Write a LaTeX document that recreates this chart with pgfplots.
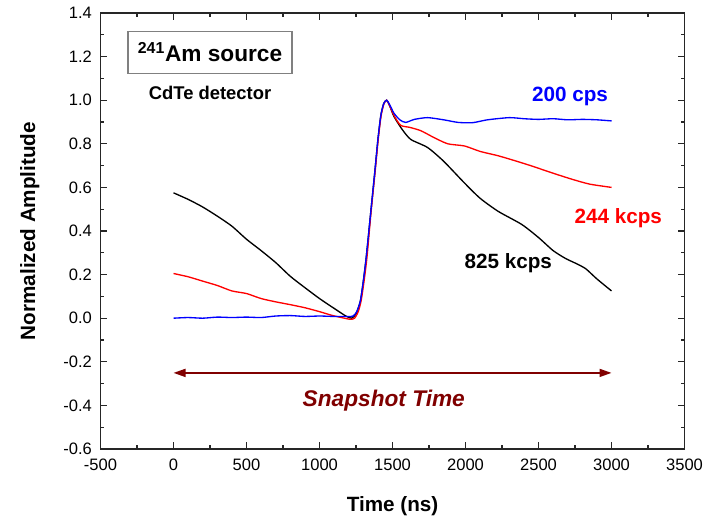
\documentclass[border=0pt]{standalone}
\usepackage{pgfplots}
\pgfplotsset{compat=1.18}
\usepackage{fontspec}
\setmainfont{Liberation Sans}
\usetikzlibrary{arrows.meta}
\definecolor{snapred}{RGB}{128,0,0}
\definecolor{boxgray}{RGB}{128,128,128}
\begin{document}
\begin{tikzpicture}
\useasboundingbox (-75.4pt,-50.25pt) rectangle (452.6pt,336.75pt);
\begin{axis}[
  at={(0,0)}, anchor=south west,
  scale only axis, width=438pt, height=327pt,
  xmin=-500, xmax=3500, ymin=-0.6, ymax=1.4,
  xtick={-500,0,...,3500}, ytick={-0.6,-0.4,...,1.41},
  minor x tick num=1, minor y tick num=1,
  tick align=inside, tick pos=both,
  major tick length=5pt, minor tick length=2.8pt,
  axis line style={line width=1.1pt, black!85},
  every tick/.style={line width=0.9pt, black!85},
  /pgf/number format/assume math mode=true,
  xticklabel style={font=\fontsize{12.4}{14}\selectfont, yshift=-4pt, /pgf/number format/set thousands separator={}},
  yticklabel style={font=\fontsize{12.4}{14}\selectfont, xshift=-3pt, /pgf/number format/fixed, /pgf/number format/fixed zerofill, /pgf/number format/precision=1},
  xlabel={\textbf{Time (ns)}},
  ylabel={\textbf{Normalized Amplitude}},
  label style={font=\fontsize{15.5}{18}\selectfont},
  xlabel style={at={(axis description cs:0.5,0)}, anchor=center, yshift=-43pt},
  ylabel style={at={(axis description cs:0,0.5)}, anchor=center, yshift=53pt},
  clip=false,
]
% 825 kcps (black)
\addplot[black, line width=1pt, smooth, tension=0.4] coordinates {
(0,0.575) (100,0.545) (200,0.51) (300,0.468) (400,0.422) (500,0.362) (600,0.31) (700,0.255) (800,0.192) (900,0.14) (1000,0.09) (1100,0.045) (1180,0.01) (1220,0.0)
(1250,0.02) (1280,0.08) (1300,0.17) (1320,0.28) (1350,0.48) (1380,0.68) (1400,0.82) (1420,0.93) (1440,0.985) (1460,1.0) (1480,0.975)
(1510,0.925) (1567,0.865) (1625,0.82) (1740,0.783) (1850,0.72) (1993,0.62) (2100,0.55) (2224,0.49) (2385,0.43) (2500,0.37) (2600,0.31) (2685,0.274) (2760,0.25) (2823,0.227) (2900,0.18) (3000,0.125)
};
% 244 kcps (red)
\addplot[red, line width=1pt, smooth, tension=0.4] coordinates {
(0,0.205) (100,0.19) (200,0.17) (300,0.15) (400,0.125) (500,0.113) (600,0.09) (700,0.075) (800,0.062) (900,0.048) (1000,0.03) (1080,0.014) (1150,0.003) (1210,-0.005) (1240,0.0)
(1265,0.03) (1285,0.08) (1305,0.17) (1325,0.28) (1352,0.48) (1382,0.68) (1402,0.82) (1422,0.93) (1442,0.985) (1460,1.0) (1480,0.975)
(1510,0.93) (1555,0.885) (1620,0.875) (1694,0.86) (1780,0.83) (1878,0.80) (1993,0.79) (2100,0.765) (2224,0.745) (2350,0.72) (2454,0.698) (2600,0.665) (2731,0.637) (2850,0.615) (3000,0.600)
};
% 200 cps (blue)
\addplot[blue, line width=1pt, smooth, tension=0.4] coordinates {
(0,0.0) (100,0.003) (200,0.0) (300,0.005) (400,0.003) (500,0.005) (600,0.003) (700,0.01) (800,0.012) (900,0.008) (1000,0.01) (1100,0.008) (1200,0.008) (1230,0.01)
(1255,0.03) (1280,0.08) (1300,0.17) (1320,0.28) (1350,0.48) (1380,0.68) (1400,0.82) (1420,0.93) (1440,0.985) (1460,1.0) (1480,0.98)
(1510,0.94) (1550,0.91) (1590,0.898) (1650,0.912) (1740,0.92) (1850,0.91) (1950,0.898) (2050,0.897) (2150,0.91) (2300,0.92) (2400,0.915) (2500,0.912) (2600,0.915) (2700,0.91) (2800,0.912) (2900,0.91) (3000,0.905)
};
% snapshot arrow
\addplot[snapred, line width=1.2pt, {Triangle[length=9pt,width=6pt]}-{Triangle[length=9pt,width=6pt]}] coordinates {(0,-0.251) (3000,-0.251)};
\node[font=\fontsize{17}{20}\selectfont\bfseries\itshape, text=snapred] at (axis cs:1440,-0.376) {Snapshot Time};
\node[draw=boxgray, line width=0.8pt, minimum width=123pt, minimum height=31.5pt, font=\fontsize{17}{20}\selectfont\bfseries] at (axis cs:250,1.22) {\textsuperscript{241}Am source};
\node[font=\fontsize{13.8}{16}\selectfont\bfseries] at (axis cs:250,1.032) {CdTe detector};
\node[font=\fontsize{15.5}{18}\selectfont\bfseries, text=blue] at (axis cs:2716,1.018) {200 cps};
\node[font=\fontsize{15.5}{18}\selectfont\bfseries, text=red] at (axis cs:3046,0.459) {244 kcps};
\node[font=\fontsize{15.5}{18}\selectfont\bfseries] at (axis cs:2293,0.251) {825 kcps};
\end{axis}
\end{tikzpicture}
\end{document}
